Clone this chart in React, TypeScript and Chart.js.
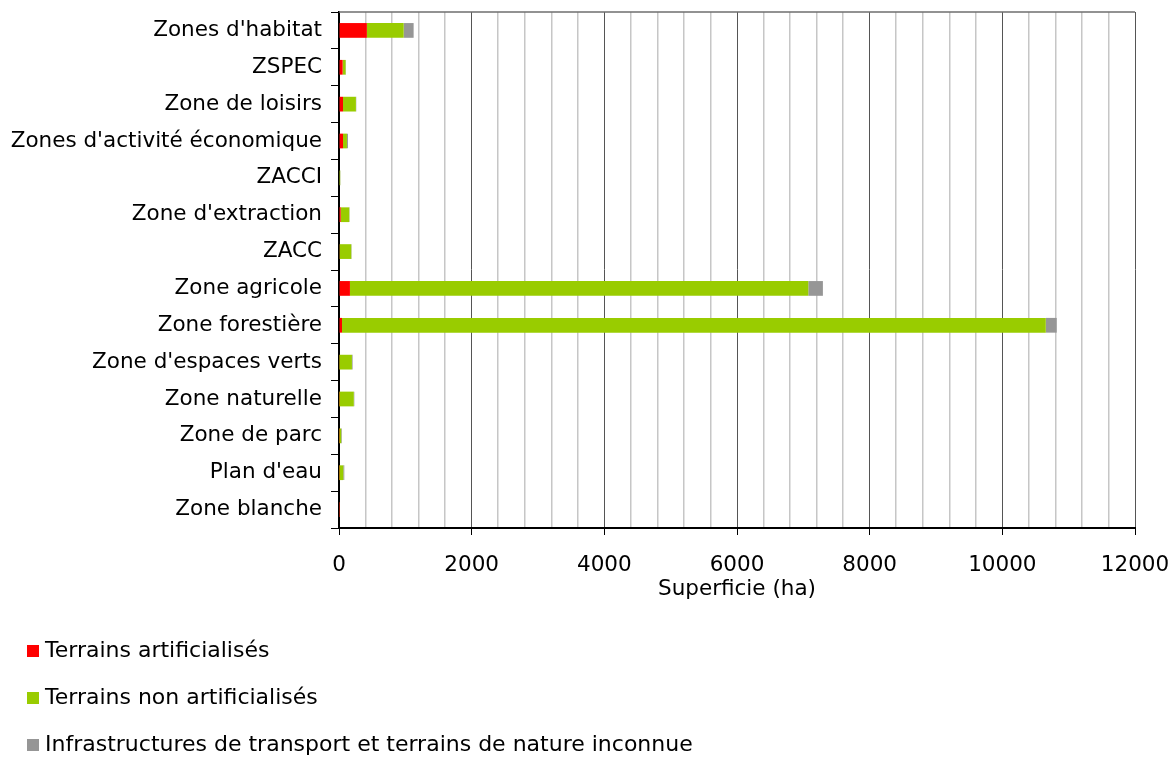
import React, { useEffect, useRef } from 'react';
import { Chart, registerables } from 'chart.js';

Chart.register(...registerables);

const categories = [
  "Zones d'habitat",
  'ZSPEC',
  'Zone de loisirs',
  "Zones d'activité économique",
  'ZACCI',
  "Zone d'extraction",
  'ZACC',
  'Zone agricole',
  'Zone forestière',
  "Zone d'espaces verts",
  'Zone naturelle',
  'Zone de parc',
  "Plan d'eau",
  'Zone blanche',
];

const artificialises = [420, 55, 60, 60, 8, 25, 10, 165, 45, 5, 3, 3, 3, 1];
const nonArtificialises = [555, 45, 195, 60, 10, 130, 175, 6910, 10610, 190, 220, 30, 62, 2];
const infrastructures = [150, 5, 5, 15, 3, 5, 5, 220, 165, 10, 8, 10, 15, 1];

const seriesLabels = [
  'Terrains artificialisés',
  'Terrains non artificialisés',
  'Infrastructures de transport et terrains de nature inconnue',
];
const seriesColors = ['#FF0000', '#99CC00', '#969696'];

const X_MIN = 0;
const X_MAX = 12000;
const MINOR_STEP = 400;
const MAJOR_STEP = 2000;
const AXIS_TITLE = 'Superficie (ha)';

const FONT_FAMILY = '"DejaVu Sans", Verdana, sans-serif';
const FONT_SIZE = 21.5;
const LEGEND_FONT_SIZE = 22;

const W = 1169;
const H = 758;

const legendPlugin = {
  id: 'verticalLegend',
  afterDraw(chart: any) {
    const ctx = chart.ctx;
    const { left, right, top } = chart.chartArea;
    ctx.save();
    // top border of plot area
    ctx.strokeStyle = '#6e6e6e';
    ctx.lineWidth = 1.5;
    ctx.beginPath();
    ctx.moveTo(left, top);
    ctx.lineTo(right, top);
    ctx.stroke();
    // legend
    ctx.font = `${LEGEND_FONT_SIZE}px ${FONT_FAMILY}`;
    ctx.textBaseline = 'middle';
    ctx.textAlign = 'left';
    chart.data.datasets.forEach((ds: any, i: number) => {
      const y = 651 + i * 47;
      ctx.fillStyle = ds.backgroundColor;
      ctx.fillRect(27, y - 6, 12, 12);
      ctx.fillStyle = '#000';
      ctx.fillText(ds.label, 45, y);
    });
    ctx.restore();
  },
};

export default function App() {
  const ref = useRef<HTMLCanvasElement | null>(null);

  useEffect(() => {
    if (!ref.current) return;
    const values = [artificialises, nonArtificialises, infrastructures];
    const font = { family: FONT_FAMILY, size: FONT_SIZE, lineHeight: 1.2 };
    const isMajor = (v: number) => v % MAJOR_STEP === 0;
    const chart = new Chart(ref.current, {
      type: 'bar',
      data: {
        labels: categories,
        datasets: seriesLabels.map((label, i) => ({
          label,
          data: values[i],
          backgroundColor: seriesColors[i],
          borderWidth: 0,
          barPercentage: 0.4,
          categoryPercentage: 1,
        })),
      },
      options: {
        indexAxis: 'y',
        animation: false,
        responsive: false,
        maintainAspectRatio: false,
        layout: { padding: { top: 12, right: 34, bottom: 156, left: 0 } },
        plugins: {
          legend: { display: false },
          tooltip: { enabled: false },
        },
        scales: {
          x: {
            stacked: true,
            min: X_MIN,
            max: X_MAX,
            ticks: {
              stepSize: MINOR_STEP,
              autoSkip: false,
              maxRotation: 0,
              color: '#000',
              font,
              padding: 18,
              callback: (v: any) => (isMajor(Number(v)) ? String(v) : ''),
            },
            grid: {
              color: (c: any) => (isMajor(c.tick?.value ?? 0) ? '#555555' : '#c6c6c6'),
              lineWidth: (c: any) => (isMajor(c.tick?.value ?? 0) ? 1 : 1.5),
              tickColor: (c: any) => (isMajor(c.tick?.value ?? 0) ? '#000' : 'rgba(0,0,0,0)'),
              tickLength: 7,
            },
            border: { color: '#000', width: 2 },
            title: {
              display: true,
              text: AXIS_TITLE,
              color: '#000',
              font,
              padding: { top: 0, bottom: 0 },
            },
            afterFit: (s: any) => {
              s.height = 74;
              s.paddingLeft = 0;
              s.paddingRight = 0;
            },
          },
          y: {
            stacked: true,
            ticks: { color: '#000', font, padding: 9, autoSkip: false },
            grid: { drawOnChartArea: false, tickLength: 8, tickColor: '#000' },
            border: { color: '#000', width: 2 },
            afterFit: (s: any) => {
              s.width = 339;
              s.paddingTop = 0;
              s.paddingBottom = 0;
            },
          },
        },
      },
      plugins: [legendPlugin],
    } as any);
    return () => chart.destroy();
  }, []);

  return (
    <div style={{ position: 'fixed', left: 0, top: 0, width: W, height: H, background: '#fff' }}>
      <canvas ref={ref} width={W} height={H} style={{ width: W, height: H, display: 'block' }} />
    </div>
  );
}
